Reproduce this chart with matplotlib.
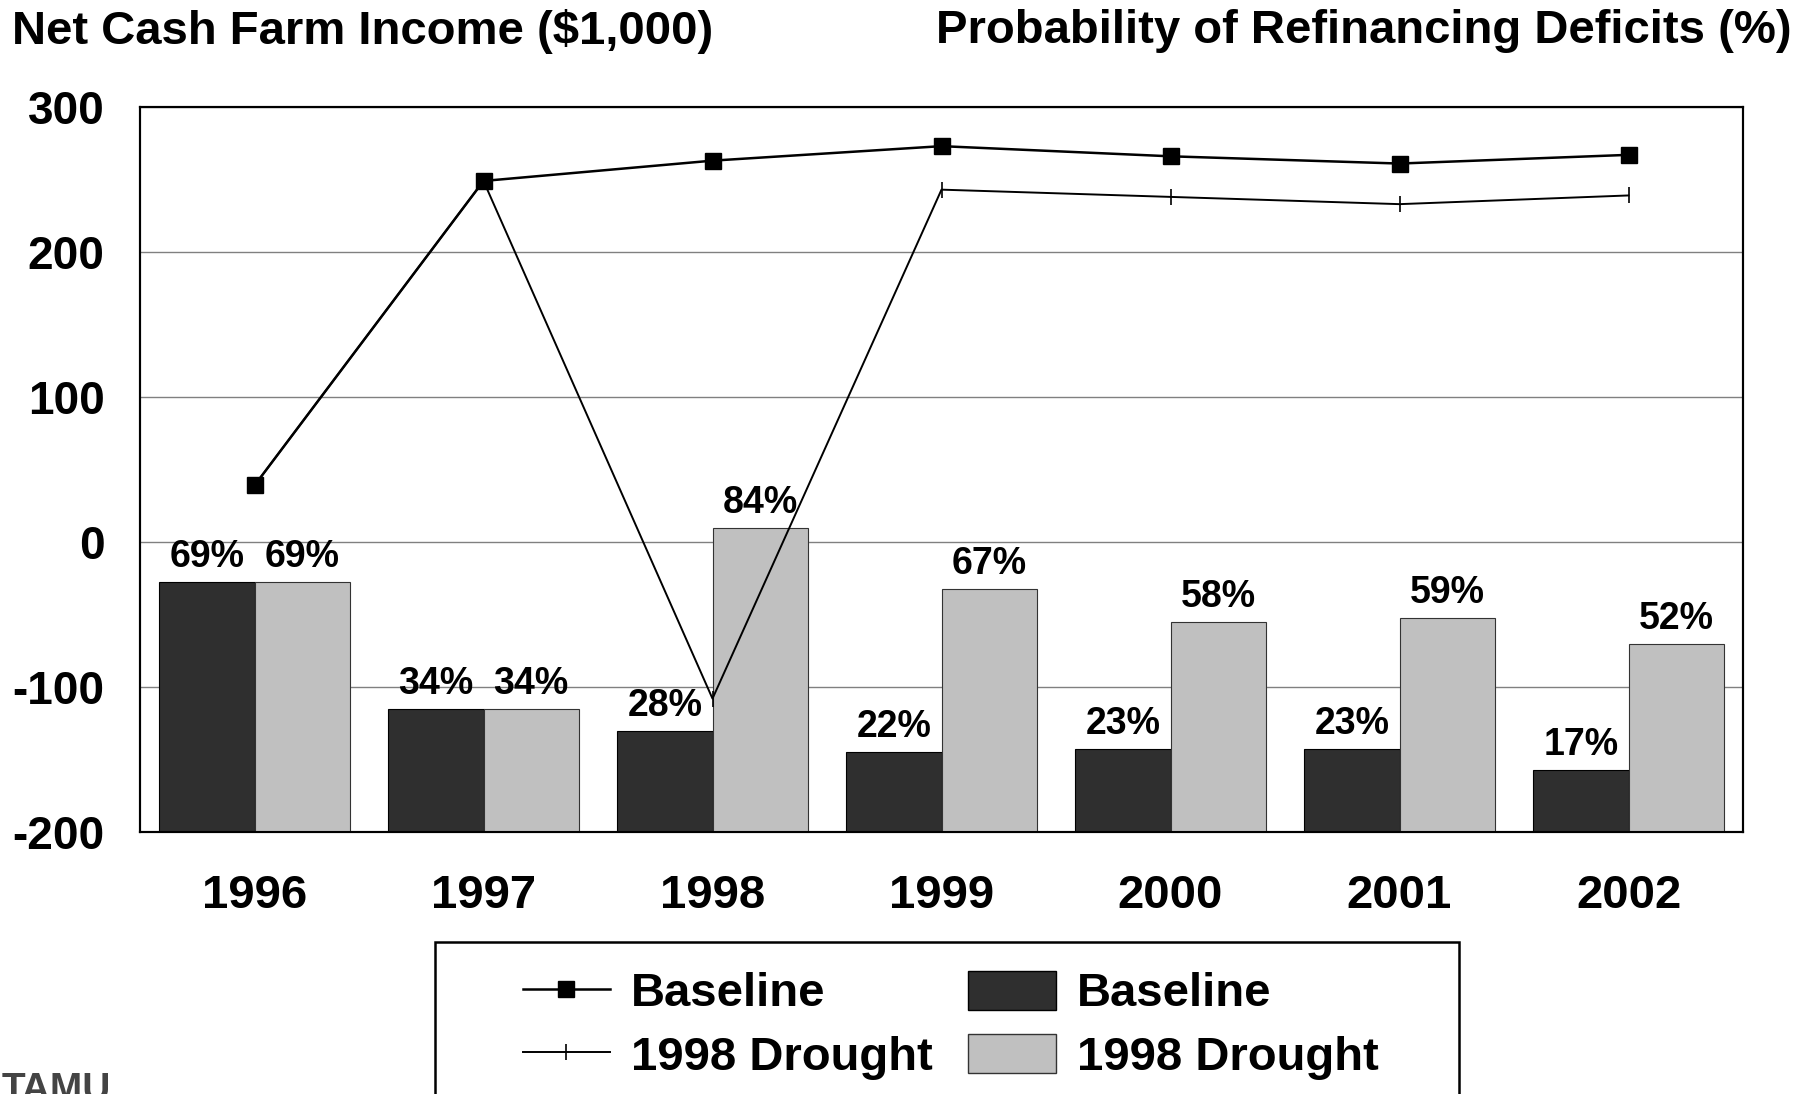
import matplotlib
matplotlib.use("Agg")
import matplotlib.pyplot as plt
from matplotlib.lines import Line2D
from matplotlib.patches import Patch, Rectangle

# ── Data ──────────────────────────────────────────────────────────────────────
years = ["1996", "1997", "1998", "1999", "2000", "2001", "2002"]
income_baseline = [39, 249, 263, 273, 266, 261, 267]
income_drought = [39, 249, -108, 243, 238, 233, 239]
prob_baseline = [69, 34, 28, 22, 23, 23, 17]
prob_drought = [69, 34, 84, 67, 58, 59, 52]

DARK = "#2f2f2f"
LIGHT = "#c0c0c0"
FONT = "Liberation Sans"

plt.rcParams["font.family"] = FONT
plt.rcParams["font.weight"] = "bold"
plt.rcParams["axes.unicode_minus"] = False

W, H = 1819, 1094
fig = plt.figure(figsize=(W / 100, H / 100), dpi=100)
ax2 = fig.add_axes([140 / W, 1 - 832 / H, (1743 - 140) / W, (832 - 107) / H])
ax = ax2.twinx()

x = list(range(len(years)))
bw = 0.415

# ── Bars (probability, hidden 0-200% scale) ──────────────────────────────────
ax2.bar([i - bw / 2 for i in x], prob_baseline, width=bw, color=DARK,
        edgecolor="black", linewidth=0.8, zorder=3)
ax2.bar([i + bw / 2 for i in x], prob_drought, width=bw, color=LIGHT,
        edgecolor="#333333", linewidth=0.8, zorder=3)
for i in x:
    ax2.annotate(f"{prob_baseline[i]}%", xy=(i - bw / 2, prob_baseline[i]),
                 xytext=(0, 5), textcoords="offset points", ha="center",
                 va="bottom", fontsize=27, fontweight="bold")
    ax2.annotate(f"{prob_drought[i]}%", xy=(i + bw / 2, prob_drought[i]),
                 xytext=(0, 5), textcoords="offset points", ha="center",
                 va="bottom", fontsize=27, fontweight="bold")
ax2.set_ylim(0, 200)
ax2.set_yticks([0, 40, 80, 120, 160, 200])
ax2.grid(axis="y", color="#808080", linewidth=1.0, zorder=0)
ax2.tick_params(left=False, labelleft=False, right=False, labelright=False)

# ── Lines (income) ────────────────────────────────────────────────────────────
ax.plot(x, income_drought, color="black", linewidth=1.4, marker="|",
        markersize=12, markeredgewidth=1.2, zorder=4)
ax.plot(x, income_baseline, color="black", linewidth=1.8, marker="s",
        markersize=12, zorder=5)
ax.set_zorder(ax2.get_zorder() + 1)
ax.patch.set_visible(False)
ax.set_ylim(-200, 300)
ax.set_yticks([-200, -100, 0, 100, 200, 300])
ax.yaxis.tick_left()
ax.tick_params(axis="y", left=False, right=False, labelleft=True,
               labelright=False, labelsize=33, pad=22)
ax.set_xlim(-0.5, 6.5)
ax2.set_xticks(x)
ax2.set_xticklabels(years)
ax2.tick_params(axis="x", bottom=False, labelsize=34, pad=27)
for a in (ax, ax2):
    for s in a.spines.values():
        s.set_color("black")
        s.set_linewidth(1.5)

# ── Titles ────────────────────────────────────────────────────────────────────
fig.text(12 / W, 1 - 31 / H, "Net Cash Farm Income ($1,000)", fontsize=34,
         fontweight="bold", ha="left", va="center")
fig.text(1792 / W, 1 - 31 / H, "Probability of Refinancing Deficits (%)",
         fontsize=34, fontweight="bold", ha="right", va="center")

# ── Legend ────────────────────────────────────────────────────────────────────
handles = [
    Line2D([], [], color="black", linewidth=1.8, marker="s", markersize=12),
    Line2D([], [], color="black", linewidth=1.4, marker="|", markersize=12,
           markeredgewidth=1.2),
    Patch(facecolor=DARK, edgecolor="black"),
    Patch(facecolor=LIGHT, edgecolor="#333333"),
]
labels = ["Baseline", "1998 Drought", "Baseline", "1998 Drought"]
fig.legend(handles, labels, ncol=2, loc="upper left",
           bbox_to_anchor=(499 / W, 1 - 947 / H), frameon=False,
           fontsize=34, handlelength=1.85, handleheight=0.9,
           handletextpad=0.45, columnspacing=0.75, borderpad=0,
           labelspacing=0.37)
fig.add_artist(Rectangle((435 / W, -0.05), (1459 - 435) / W,
                         0.05 + 1 - 942 / H, transform=fig.transFigure,
                         fill=False, edgecolor="black", linewidth=1.8))

fig.text(2 / W, 1 - 1072 / H, "TAMU", fontsize=28, fontweight="bold",
         color="#444444", ha="left", va="top")

fig.savefig("out.png", dpi=100, facecolor="white")
